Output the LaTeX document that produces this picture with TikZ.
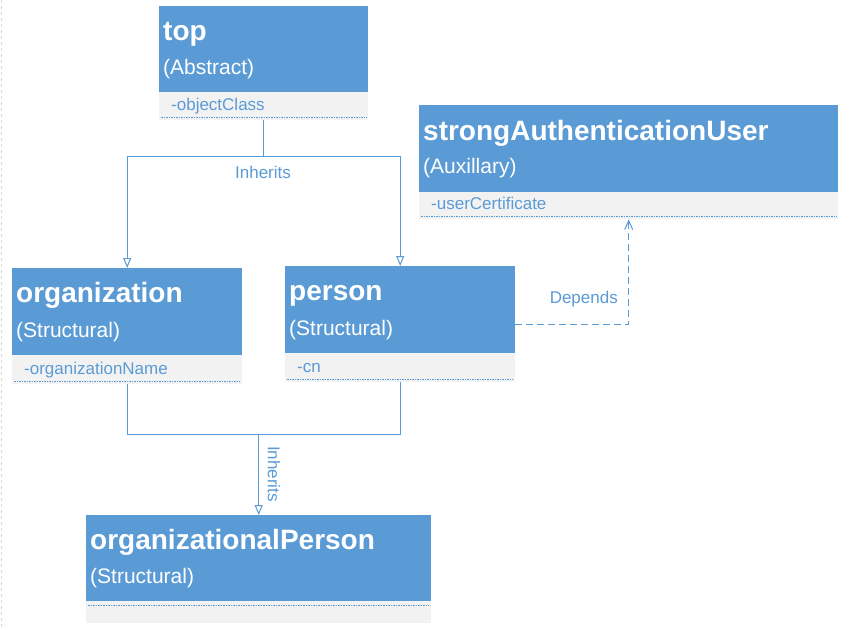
\documentclass[tikz,border=0pt]{standalone}
\usepackage{fontspec}
\setmainfont{Liberation Sans}
\usetikzlibrary{arrows.meta,calc}
\definecolor{hblue}{HTML}{5B9BD5}
\definecolor{agray}{HTML}{F2F2F2}
\definecolor{edgegray}{HTML}{D9D9D9}
\begin{document}
\begin{tikzpicture}[x=1pt,y=-1pt,
 hdr/.style={fill=hblue, draw=none, anchor=north west, inner sep=0pt},
 attrrow/.style={fill=agray, draw=none, anchor=north west, inner sep=0pt},
 ttl/.style={anchor=base west, inner sep=0pt, text=white, font=\fontsize{28}{34}\selectfont\bfseries},
 sub/.style={anchor=base west, inner sep=0pt, text=white, font=\fontsize{21}{25}\selectfont},
 attrtxt/.style={anchor=base west, inner sep=0pt, text=hblue, font=\fontsize{17}{20}\selectfont},
 lbl/.style={inner sep=0pt, text=hblue, font=\fontsize{17}{20}\selectfont},
 dotl/.style={draw=hblue, line width=0.8pt, dash pattern=on 1.5pt off 1pt},
 conn/.style={draw=hblue, line width=1pt},
 inh/.style={conn, -{Triangle[open,width=8pt,length=10pt]}},
 dep/.style={conn, dash pattern=on 7pt off 4pt, -{Straight Barb[width=8pt,length=9pt]}},
]
\useasboundingbox (0,0) rectangle (851,629);
\fill[white] (0,0) rectangle (851,629);
\draw[edgegray, line width=1pt, dash pattern=on 3pt off 3pt] (1.5,0) -- (1.5,629);

% top
\node[hdr, minimum width=209pt, minimum height=86pt] (topH) at (159,6) {};
\node[attrrow, minimum width=209pt, minimum height=28pt] (topA) at (159,92) {};
\node[ttl] (topT) at (163,40) {top};
\node[sub] (topS) at (163,74) {(Abstract)};
\node[attrtxt] (topX) at (171,110) {-objectClass};
\draw[dotl] ($(topA.south west)+(2,-3)$) -- ($(topA.south east)+(-2,-3)$);

% strongAuthenticationUser
\node[hdr, minimum width=419pt, minimum height=87pt] (sauH) at (419,105) {};
\node[attrrow, minimum width=419pt, minimum height=27pt] (sauA) at (419,192) {};
\node[ttl] (sauT) at (423,140) {strongAuthenticationUser};
\node[sub] (sauS) at (423,173) {(Auxillary)};
\node[attrtxt] (sauX) at (431,209) {-userCertificate};
\draw[dotl] ($(sauA.south west)+(2,-3)$) -- ($(sauA.south east)+(-2,-3)$);

% organization
\node[hdr, minimum width=230pt, minimum height=87pt] (orgH) at (12,268) {};
\node[attrrow, minimum width=230pt, minimum height=29pt] (orgA) at (12,355) {};
\node[ttl] (orgT) at (16,302) {organization};
\node[sub] (orgS) at (16,337) {(Structural)};
\node[attrtxt] (orgX) at (24,374) {-organizationName};
\draw[dotl] ($(orgA.south west)+(2,-3)$) -- ($(orgA.south east)+(-2,-3)$);

% person
\node[hdr, minimum width=230pt, minimum height=87pt] (perH) at (285,266) {};
\node[attrrow, minimum width=230pt, minimum height=29pt] (perA) at (285,353) {};
\node[ttl] (perT) at (289,300) {person};
\node[sub] (perS) at (289,335) {(Structural)};
\node[attrtxt] (perX) at (297,372) {-cn};
\draw[dotl] ($(perA.south west)+(2,-3)$) -- ($(perA.south east)+(-2,-3)$);

% organizationalPerson
\node[hdr, minimum width=345pt, minimum height=86pt] (opH) at (86,515) {};
\node[attrrow, minimum width=345pt, minimum height=22pt] (opA) at (86,601) {};
\node[ttl] (opT) at (90,549) {organizationalPerson};
\node[sub] (opS) at (90,583) {(Structural)};
\draw[dotl] ($(opA.north west)+(2,4)$) -- ($(opA.north east)+(-2,4)$);

% inheritance from top
\coordinate (j1) at ($(topA.south)+(0,36)$);
\draw[conn] (topA.south) -- (j1);
\draw[inh] (j1) -| (orgH.north);
\draw[inh] (j1) -| (perH.north);
\node[lbl, anchor=base] (inh1) at (263,178) {Inherits};

% inheritance to organizationalPerson
\coordinate (j2) at ($(opH.north)+(0,-81)$);
\draw[conn] (orgA.south) |- (j2);
\draw[conn] (perA.south) |- (j2);
\draw[inh] (j2) -- (opH.north);
\node[lbl, rotate=-90] (inh2) at (274,474) {Inherits};

% depends
\coordinate (perE) at ($(perH.north east)!0.5!(perA.south east)$);
\draw[dep] (perE) -| (sauA.south);
\node[lbl, anchor=base east] (depL) at (618,303) {Depends};
\end{tikzpicture}
\end{document}
